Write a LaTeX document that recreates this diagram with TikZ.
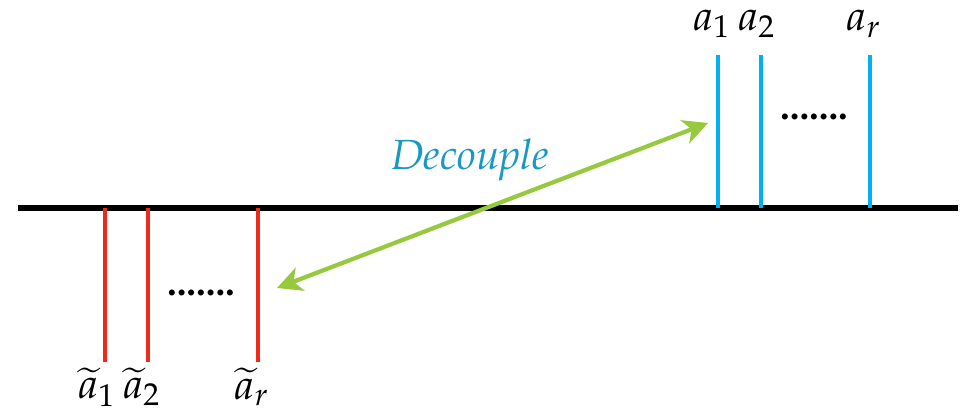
\documentclass[tikz,border=0pt]{standalone}
\usepackage[T1]{fontenc}
\usepackage{mathpazo}
\usetikzlibrary{arrows.meta}
\definecolor{lineblue}{HTML}{00B0F0}
\definecolor{linered}{HTML}{EE2A1B}
\definecolor{arrgreen}{HTML}{96C93D}
\definecolor{txtblue}{HTML}{1A98C4}

\begin{document}
\begin{tikzpicture}[x=0.01cm,y=-0.01cm,
  base/.style={line width=1.45pt,black},
  up/.style={line width=1.15pt,lineblue},
  down/.style={line width=1.15pt,linered},
  lbl/.style={inner sep=0pt,font=\large},
  dots/.style={inner sep=0pt,font=\fontsize{11}{13}\selectfont\bfseries},
  dec/.style={{Stealth[length=7pt,width=7pt,inset=2pt]}-{Stealth[length=7pt,width=7pt,inset=2pt]},line width=1.2pt,arrgreen}
]
  \useasboundingbox (0,0) rectangle (962,410);
  \coordinate (L) at (18,208);
  \coordinate (R) at (958,208);
  \draw[base](L)--(R);
  % upper lines
  \coordinate (u1) at (718,208); \coordinate (u1t) at (718,55);
  \coordinate (u2) at (761,208); \coordinate (u2t) at (761,55);
  \coordinate (ur) at (870,208); \coordinate (urt) at (870,55);
  \draw[up](u1)--(u1t);
  \draw[up](u2)--(u2t);
  \draw[up](ur)--(urt);
  \node[lbl](a1) at (712,24) {$a_1$};
  \node[lbl](a2) at (757,24) {$a_2$};
  \node[lbl](ar) at (864,24) {$a_r$};
  \node[dots](udots) at (814,117) {.......};
  % lower lines
  \coordinate (d1) at (105,208); \coordinate (d1b) at (105,362);
  \coordinate (d2) at (148,208); \coordinate (d2b) at (148,362);
  \coordinate (dr) at (258,208); \coordinate (drb) at (258,362);
  \draw[down](d1)--(d1b);
  \draw[down](d2)--(d2b);
  \draw[down](dr)--(drb);
  \node[lbl](b1) at (97,387) {$\widetilde{a}_1$};
  \node[lbl](b2) at (142,387) {$\widetilde{a}_2$};
  \node[lbl](br) at (252,387) {$\widetilde{a}_r$};
  \node[dots](ddots) at (201,293) {.......};
  % decouple arrow
  \node[inner sep=0pt,font=\large\itshape,text=txtblue](dectext) at (470,160) {Decouple};
  \coordinate (p) at (277,288);
  \coordinate (q) at (708,123);
  \draw[dec](p)--(q);
\end{tikzpicture}
\end{document}
